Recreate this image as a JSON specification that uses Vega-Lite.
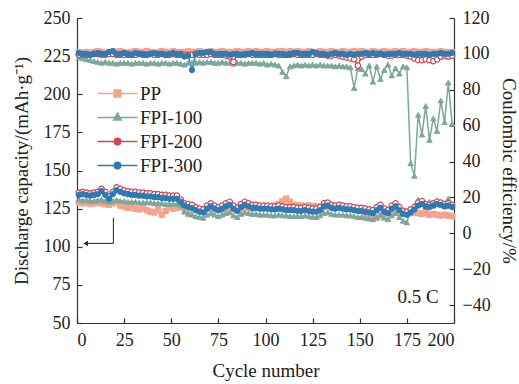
{
"$schema":"https://vega.github.io/schema/vega-lite/v6.json",
"width":377,"height":305,"autosize":{"type":"none"},
"padding":{"left":77,"top":18,"right":65,"bottom":61},
"background":"white",
"config":{"font":"Liberation Serif","view":{"stroke":null},
 "axis":{"grid":false,"domainColor":"#333","tickColor":"#333","labelColor":"#222","titleColor":"#222","labelFont":"Liberation Serif","titleFont":"Liberation Serif","labelFontSize":18,"titleFontSize":19,"titleFontWeight":"normal","tickSize":-5,"domainWidth":1.2,"tickWidth":1.2}},
"datasets":{
"cap":[
{"c":1,"PP":129,"FPI-100":131,"FPI-200":135.5,"FPI-300":134},
{"c":3,"PP":128.5,"FPI-100":130.5,"FPI-200":136,"FPI-300":134.5},
{"c":5,"PP":129,"FPI-100":130.5,"FPI-200":135.5,"FPI-300":134},
{"c":7,"PP":128,"FPI-100":130,"FPI-200":135,"FPI-300":133.5},
{"c":9,"PP":128.5,"FPI-100":130,"FPI-200":135.5,"FPI-300":134},
{"c":11,"PP":129,"FPI-100":130.5,"FPI-200":136,"FPI-300":134.5},
{"c":13,"PP":128.5,"FPI-100":131,"FPI-200":138,"FPI-300":136.5},
{"c":15,"PP":128,"FPI-100":130,"FPI-200":136,"FPI-300":134},
{"c":17,"PP":127.5,"FPI-100":129.5,"FPI-200":133,"FPI-300":131.5},
{"c":19,"PP":128.5,"FPI-100":130,"FPI-200":136,"FPI-300":134.5},
{"c":21,"PP":129.5,"FPI-100":130.5,"FPI-200":139,"FPI-300":137},
{"c":23,"PP":127,"FPI-100":130,"FPI-200":138,"FPI-300":136},
{"c":25,"PP":126.5,"FPI-100":130,"FPI-200":137,"FPI-300":135},
{"c":27,"PP":125.5,"FPI-100":129.5,"FPI-200":136.5,"FPI-300":134.5},
{"c":29,"PP":126,"FPI-100":129.5,"FPI-200":136,"FPI-300":134},
{"c":31,"PP":125,"FPI-100":129.5,"FPI-200":136,"FPI-300":134},
{"c":33,"PP":124.5,"FPI-100":129,"FPI-200":135.5,"FPI-300":133.5},
{"c":35,"PP":125.5,"FPI-100":129,"FPI-200":135.5,"FPI-300":133.5},
{"c":37,"PP":124,"FPI-100":129,"FPI-200":135,"FPI-300":133},
{"c":39,"PP":123,"FPI-100":129,"FPI-200":135,"FPI-300":133},
{"c":41,"PP":122.5,"FPI-100":128.5,"FPI-200":134.5,"FPI-300":132.5},
{"c":43,"PP":124.5,"FPI-100":128.5,"FPI-200":134.5,"FPI-300":132.5},
{"c":45,"PP":121,"FPI-100":128.5,"FPI-200":134,"FPI-300":132},
{"c":47,"PP":123.5,"FPI-100":128,"FPI-200":134,"FPI-300":132},
{"c":49,"PP":125.5,"FPI-100":128,"FPI-200":133.5,"FPI-300":131.5},
{"c":51,"PP":125,"FPI-100":128,"FPI-200":133.5,"FPI-300":131.5},
{"c":53,"PP":125.5,"FPI-100":128,"FPI-200":133.5,"FPI-300":131.5},
{"c":55,"PP":126,"FPI-100":127,"FPI-200":131,"FPI-300":129.5},
{"c":57,"PP":125,"FPI-100":123,"FPI-200":128.5,"FPI-300":127},
{"c":59,"PP":124.5,"FPI-100":121.5,"FPI-200":128,"FPI-300":126},
{"c":61,"PP":124,"FPI-100":121,"FPI-200":127.5,"FPI-300":125.5},
{"c":63,"PP":124.5,"FPI-100":120,"FPI-200":126,"FPI-300":124},
{"c":65,"PP":123.5,"FPI-100":119.5,"FPI-200":125,"FPI-300":123},
{"c":67,"PP":124,"FPI-100":119,"FPI-200":124.5,"FPI-300":122.5},
{"c":69,"PP":125,"FPI-100":121,"FPI-200":127,"FPI-300":125},
{"c":71,"PP":125,"FPI-100":122,"FPI-200":128.5,"FPI-300":126.5},
{"c":73,"PP":124.5,"FPI-100":121,"FPI-200":127,"FPI-300":125},
{"c":75,"PP":124,"FPI-100":120,"FPI-200":126,"FPI-300":124},
{"c":77,"PP":124.5,"FPI-100":121,"FPI-200":127,"FPI-300":125},
{"c":79,"PP":125,"FPI-100":122,"FPI-200":128.5,"FPI-300":126.5},
{"c":81,"PP":125.5,"FPI-100":122.5,"FPI-200":129.5,"FPI-300":127.5},
{"c":83,"PP":124.5,"FPI-100":120.5,"FPI-200":127,"FPI-300":125},
{"c":85,"PP":124,"FPI-100":119.5,"FPI-200":125.5,"FPI-300":123.5},
{"c":87,"PP":125,"FPI-100":121.5,"FPI-200":128,"FPI-300":126},
{"c":89,"PP":125.5,"FPI-100":122.5,"FPI-200":129.5,"FPI-300":127.5},
{"c":91,"PP":125.5,"FPI-100":122,"FPI-200":128.5,"FPI-300":126.5},
{"c":93,"PP":125,"FPI-100":121.5,"FPI-200":127.5,"FPI-300":125.5},
{"c":95,"PP":125.5,"FPI-100":121.5,"FPI-200":127.5,"FPI-300":125.5},
{"c":97,"PP":126,"FPI-100":121,"FPI-200":127,"FPI-300":125},
{"c":99,"PP":125.5,"FPI-100":121,"FPI-200":127,"FPI-300":125},
{"c":101,"PP":126,"FPI-100":121,"FPI-200":127,"FPI-300":125},
{"c":103,"PP":126.5,"FPI-100":120.5,"FPI-200":126.5,"FPI-300":124.5},
{"c":105,"PP":127,"FPI-100":120.5,"FPI-200":126.5,"FPI-300":124.5},
{"c":107,"PP":128,"FPI-100":121,"FPI-200":127,"FPI-300":125},
{"c":109,"PP":130,"FPI-100":120.5,"FPI-200":126.5,"FPI-300":124.5},
{"c":111,"PP":131.5,"FPI-100":120.5,"FPI-200":126,"FPI-300":124},
{"c":113,"PP":129.5,"FPI-100":120,"FPI-200":126,"FPI-300":124},
{"c":115,"PP":127.5,"FPI-100":120,"FPI-200":126,"FPI-300":124},
{"c":117,"PP":127,"FPI-100":120,"FPI-200":125.5,"FPI-300":123.5},
{"c":119,"PP":127,"FPI-100":120,"FPI-200":125.5,"FPI-300":123.5},
{"c":121,"PP":126.5,"FPI-100":120.5,"FPI-200":126,"FPI-300":124},
{"c":123,"PP":127,"FPI-100":120,"FPI-200":125.5,"FPI-300":123.5},
{"c":125,"PP":126.5,"FPI-100":119.5,"FPI-200":125,"FPI-300":123},
{"c":127,"PP":126.5,"FPI-100":119.5,"FPI-200":125,"FPI-300":123},
{"c":129,"PP":126,"FPI-100":120.5,"FPI-200":126,"FPI-300":124},
{"c":131,"PP":126,"FPI-100":122,"FPI-200":128.5,"FPI-300":126.5},
{"c":133,"PP":126.5,"FPI-100":122.5,"FPI-200":129,"FPI-300":127},
{"c":135,"PP":126,"FPI-100":121.5,"FPI-200":127.5,"FPI-300":125.5},
{"c":137,"PP":125.5,"FPI-100":121,"FPI-200":127,"FPI-300":125},
{"c":139,"PP":126,"FPI-100":121,"FPI-200":127.5,"FPI-300":125.5},
{"c":141,"PP":125.5,"FPI-100":121,"FPI-200":127,"FPI-300":125},
{"c":143,"PP":125,"FPI-100":120.5,"FPI-200":126.5,"FPI-300":124.5},
{"c":145,"PP":125,"FPI-100":120.5,"FPI-200":126.5,"FPI-300":124.5},
{"c":147,"PP":124.5,"FPI-100":120,"FPI-200":126,"FPI-300":124},
{"c":149,"PP":124,"FPI-100":119.5,"FPI-200":125.5,"FPI-300":123.5},
{"c":151,"PP":123.5,"FPI-100":119.5,"FPI-200":125.5,"FPI-300":123.5},
{"c":153,"PP":122,"FPI-100":119,"FPI-200":125,"FPI-300":123},
{"c":155,"PP":120,"FPI-100":118.5,"FPI-200":124.5,"FPI-300":122.5},
{"c":157,"PP":118.5,"FPI-100":118,"FPI-200":124,"FPI-300":122},
{"c":159,"PP":119,"FPI-100":119.5,"FPI-200":126,"FPI-300":124},
{"c":161,"PP":120.5,"FPI-100":121,"FPI-200":127.5,"FPI-300":125.5},
{"c":163,"PP":121.5,"FPI-100":119,"FPI-200":125,"FPI-300":123},
{"c":165,"PP":122,"FPI-100":118,"FPI-200":124,"FPI-300":122},
{"c":167,"PP":122.5,"FPI-100":120.5,"FPI-200":127,"FPI-300":125},
{"c":169,"PP":123,"FPI-100":122,"FPI-200":128.5,"FPI-300":126.5},
{"c":171,"PP":122.5,"FPI-100":119.5,"FPI-200":126,"FPI-300":124},
{"c":173,"PP":122,"FPI-100":117,"FPI-200":123.5,"FPI-300":121.5},
{"c":175,"PP":121.5,"FPI-100":116,"FPI-200":123,"FPI-300":121},
{"c":177,"PP":122,"FPI-100":124,"FPI-200":124.5,"FPI-300":122.5},
{"c":179,"PP":122.5,"FPI-100":127,"FPI-200":126,"FPI-300":124.5},
{"c":181,"PP":122,"FPI-100":131,"FPI-200":129,"FPI-300":127},
{"c":183,"PP":121.5,"FPI-100":128,"FPI-200":130,"FPI-300":128},
{"c":185,"PP":122,"FPI-100":126,"FPI-200":128,"FPI-300":126.5},
{"c":187,"PP":121,"FPI-100":129.5,"FPI-200":127.5,"FPI-300":126},
{"c":189,"PP":121.5,"FPI-100":127,"FPI-200":128.5,"FPI-300":127},
{"c":191,"PP":121,"FPI-100":130.5,"FPI-200":129.5,"FPI-300":128},
{"c":193,"PP":120.5,"FPI-100":127.5,"FPI-200":129,"FPI-300":127.5},
{"c":195,"PP":121,"FPI-100":126.5,"FPI-200":128,"FPI-300":126.5},
{"c":197,"PP":120.5,"FPI-100":131.5,"FPI-200":128.5,"FPI-300":127},
{"c":199,"PP":120,"FPI-100":127,"FPI-200":127.5,"FPI-300":126}
],
"ce":[
{"c":1,"PP":101,"FPI-100":98,"FPI-200":99.5,"FPI-300":100.5},
{"c":3,"PP":100.5,"FPI-100":97.5,"FPI-200":99.5,"FPI-300":100},
{"c":5,"PP":101,"FPI-100":97,"FPI-200":99.5,"FPI-300":100},
{"c":7,"PP":100.5,"FPI-100":96.5,"FPI-200":99.5,"FPI-300":99.5},
{"c":9,"PP":101,"FPI-100":96,"FPI-200":100,"FPI-300":100},
{"c":11,"PP":101.5,"FPI-100":95.5,"FPI-200":100,"FPI-300":100.5},
{"c":13,"PP":101,"FPI-100":95,"FPI-200":99.5,"FPI-300":100},
{"c":15,"PP":100.5,"FPI-100":95.5,"FPI-200":99.5,"FPI-300":100},
{"c":17,"PP":101,"FPI-100":95,"FPI-200":100,"FPI-300":101},
{"c":19,"PP":101.5,"FPI-100":95,"FPI-200":100,"FPI-300":101.5},
{"c":21,"PP":101,"FPI-100":94.5,"FPI-200":99.5,"FPI-300":100},
{"c":23,"PP":101.5,"FPI-100":95,"FPI-200":99.5,"FPI-300":100},
{"c":25,"PP":101,"FPI-100":95,"FPI-200":99.5,"FPI-300":100.5},
{"c":27,"PP":100.5,"FPI-100":95,"FPI-200":100,"FPI-300":99.5},
{"c":29,"PP":101,"FPI-100":94.5,"FPI-200":99.5,"FPI-300":99.5},
{"c":31,"PP":101.5,"FPI-100":95,"FPI-200":99.5,"FPI-300":100.5},
{"c":33,"PP":101,"FPI-100":95,"FPI-200":100,"FPI-300":100},
{"c":35,"PP":101,"FPI-100":95,"FPI-200":99.5,"FPI-300":100},
{"c":37,"PP":101.5,"FPI-100":94.5,"FPI-200":99.5,"FPI-300":99.5},
{"c":39,"PP":101,"FPI-100":95,"FPI-200":100,"FPI-300":100},
{"c":41,"PP":100.5,"FPI-100":95,"FPI-200":99.5,"FPI-300":100.5},
{"c":43,"PP":101,"FPI-100":94.5,"FPI-200":99.5,"FPI-300":100},
{"c":45,"PP":101.5,"FPI-100":95,"FPI-200":100,"FPI-300":100},
{"c":47,"PP":101,"FPI-100":95,"FPI-200":99.5,"FPI-300":99.5},
{"c":49,"PP":101,"FPI-100":94.5,"FPI-200":99.5,"FPI-300":100},
{"c":51,"PP":101.5,"FPI-100":95,"FPI-200":100,"FPI-300":100.5},
{"c":53,"PP":101,"FPI-100":95,"FPI-200":99.5,"FPI-300":100},
{"c":55,"PP":101,"FPI-100":94.5,"FPI-200":99.5,"FPI-300":100},
{"c":57,"PP":101,"FPI-100":94,"FPI-200":99.5,"FPI-300":98.5},
{"c":59,"PP":101.5,"FPI-100":95,"FPI-200":99.5,"FPI-300":99},
{"c":61,"PP":101,"FPI-100":95,"FPI-200":99.5,"FPI-300":91},
{"c":63,"PP":101,"FPI-100":95,"FPI-200":100,"FPI-300":100},
{"c":65,"PP":101.5,"FPI-100":95.5,"FPI-200":99.5,"FPI-300":100.5},
{"c":67,"PP":101,"FPI-100":95,"FPI-200":99.5,"FPI-300":100.5},
{"c":69,"PP":101,"FPI-100":95.5,"FPI-200":99.5,"FPI-300":101},
{"c":71,"PP":101.5,"FPI-100":95.5,"FPI-200":100,"FPI-300":101},
{"c":73,"PP":101,"FPI-100":95,"FPI-200":99.5,"FPI-300":100},
{"c":75,"PP":101,"FPI-100":95,"FPI-200":99.5,"FPI-300":100},
{"c":77,"PP":101.5,"FPI-100":95.5,"FPI-200":99.5,"FPI-300":100},
{"c":79,"PP":101,"FPI-100":95,"FPI-200":99,"FPI-300":100},
{"c":81,"PP":101,"FPI-100":95,"FPI-200":98.5,"FPI-300":99.5},
{"c":83,"PP":101,"FPI-100":94.5,"FPI-200":95.5,"FPI-300":100},
{"c":85,"PP":101.5,"FPI-100":95,"FPI-200":99.5,"FPI-300":100},
{"c":87,"PP":101,"FPI-100":95,"FPI-200":99.5,"FPI-300":99.5},
{"c":89,"PP":101,"FPI-100":94.5,"FPI-200":99.5,"FPI-300":100},
{"c":91,"PP":101.5,"FPI-100":95,"FPI-200":100,"FPI-300":100},
{"c":93,"PP":101,"FPI-100":95,"FPI-200":99.5,"FPI-300":100.5},
{"c":95,"PP":101.5,"FPI-100":95,"FPI-200":99.5,"FPI-300":100},
{"c":97,"PP":101,"FPI-100":94.5,"FPI-200":99.5,"FPI-300":100},
{"c":99,"PP":101,"FPI-100":95,"FPI-200":99.5,"FPI-300":100},
{"c":101,"PP":101.5,"FPI-100":94,"FPI-200":99.5,"FPI-300":100},
{"c":103,"PP":101,"FPI-100":94.5,"FPI-200":99.5,"FPI-300":99.5},
{"c":105,"PP":101,"FPI-100":94,"FPI-200":100,"FPI-300":100},
{"c":107,"PP":101.5,"FPI-100":93.5,"FPI-200":99.5,"FPI-300":100},
{"c":109,"PP":101.5,"FPI-100":90,"FPI-200":99.5,"FPI-300":100},
{"c":111,"PP":101,"FPI-100":87.5,"FPI-200":99.5,"FPI-300":99.5},
{"c":113,"PP":101.5,"FPI-100":93,"FPI-200":99.5,"FPI-300":100},
{"c":115,"PP":101,"FPI-100":93.5,"FPI-200":100,"FPI-300":100.5},
{"c":117,"PP":101.5,"FPI-100":94,"FPI-200":99.5,"FPI-300":100.5},
{"c":119,"PP":101,"FPI-100":93.5,"FPI-200":99.5,"FPI-300":100},
{"c":121,"PP":101,"FPI-100":94,"FPI-200":99.5,"FPI-300":100},
{"c":123,"PP":101.5,"FPI-100":93.5,"FPI-200":99.5,"FPI-300":100},
{"c":125,"PP":101,"FPI-100":94,"FPI-200":99.5,"FPI-300":101},
{"c":127,"PP":101,"FPI-100":93.5,"FPI-200":100,"FPI-300":100.5},
{"c":129,"PP":101.5,"FPI-100":94,"FPI-200":99.5,"FPI-300":100},
{"c":131,"PP":101,"FPI-100":93.5,"FPI-200":99.5,"FPI-300":100},
{"c":133,"PP":101,"FPI-100":93.5,"FPI-200":99,"FPI-300":99.5},
{"c":135,"PP":101.5,"FPI-100":93.5,"FPI-200":99,"FPI-300":100},
{"c":137,"PP":101,"FPI-100":93,"FPI-200":99.5,"FPI-300":100.5},
{"c":139,"PP":101,"FPI-100":93.5,"FPI-200":99,"FPI-300":100},
{"c":141,"PP":101.5,"FPI-100":93,"FPI-200":98.5,"FPI-300":100},
{"c":143,"PP":101,"FPI-100":93,"FPI-200":98,"FPI-300":99.5},
{"c":145,"PP":101,"FPI-100":92.5,"FPI-200":97.5,"FPI-300":100},
{"c":147,"PP":101.5,"FPI-100":81,"FPI-200":97,"FPI-300":99.5},
{"c":149,"PP":101,"FPI-100":92,"FPI-200":93.5,"FPI-300":100},
{"c":151,"PP":101.5,"FPI-100":91.5,"FPI-200":98.5,"FPI-300":100},
{"c":153,"PP":101,"FPI-100":89,"FPI-200":99.5,"FPI-300":100.5},
{"c":155,"PP":101,"FPI-100":93.5,"FPI-200":99.5,"FPI-300":100},
{"c":157,"PP":101.5,"FPI-100":84.5,"FPI-200":99.5,"FPI-300":100.5},
{"c":159,"PP":101,"FPI-100":93,"FPI-200":99.5,"FPI-300":100},
{"c":161,"PP":101,"FPI-100":86,"FPI-200":100,"FPI-300":100},
{"c":163,"PP":101.5,"FPI-100":91,"FPI-200":99.5,"FPI-300":99.5},
{"c":165,"PP":101,"FPI-100":94,"FPI-200":99,"FPI-300":100},
{"c":167,"PP":101,"FPI-100":88,"FPI-200":99,"FPI-300":100},
{"c":169,"PP":101.5,"FPI-100":92,"FPI-200":99.5,"FPI-300":100},
{"c":171,"PP":101,"FPI-100":89,"FPI-200":99.5,"FPI-300":100.5},
{"c":173,"PP":101.5,"FPI-100":93,"FPI-200":99.5,"FPI-300":100},
{"c":175,"PP":101,"FPI-100":92.5,"FPI-200":99,"FPI-300":100},
{"c":177,"PP":101,"FPI-100":39,"FPI-200":98.5,"FPI-300":100},
{"c":179,"PP":101.5,"FPI-100":32,"FPI-200":97.5,"FPI-300":99.5},
{"c":181,"PP":101,"FPI-100":66,"FPI-200":96.5,"FPI-300":100},
{"c":183,"PP":101,"FPI-100":55,"FPI-200":96.5,"FPI-300":100},
{"c":185,"PP":101.5,"FPI-100":71,"FPI-200":97,"FPI-300":100},
{"c":187,"PP":101,"FPI-100":52,"FPI-200":96.5,"FPI-300":99.5},
{"c":189,"PP":101,"FPI-100":64,"FPI-200":96,"FPI-300":100},
{"c":191,"PP":101,"FPI-100":57,"FPI-200":97,"FPI-300":100},
{"c":193,"PP":101.5,"FPI-100":74,"FPI-200":98.5,"FPI-300":100.5},
{"c":195,"PP":101,"FPI-100":62,"FPI-200":99,"FPI-300":100},
{"c":197,"PP":101,"FPI-100":84,"FPI-200":98.5,"FPI-300":100},
{"c":199,"PP":101,"FPI-100":61,"FPI-200":99,"FPI-300":100.5}
],
"arrow":[{"c":19.3,"value":119,"o":1},{"c":19.3,"value":102.2,"o":2},{"c":5,"value":102.2,"o":3}],
"arrowhead":[{"c":4.6,"value":102.2}],
"note":[{"c":181,"value":67,"t":"0.5 C"}]
},
"encoding":{"x":{"field":"c","type":"quantitative","scale":{"domain":[0,200],"nice":false},
  "axis":{"title":"Cycle number","values":[0,25,50,75,100,125,150,175,200],"labelPadding":13,"titlePadding":12}}},
"layer":[
 {"encoding":{"y":{"field":"value","type":"quantitative","scale":{"domain":[50,250],"nice":false},
   "axis":{"orient":"left","title":"Discharge capacity/(mAh·g⁻¹)","values":[50,75,100,125,150,175,200,225,250],"labelPadding":12,"titlePadding":12}}},
  "layer":[
   {"data":{"name":"cap"},"transform":[{"fold":["PP","FPI-100","FPI-200","FPI-300"],"as":["series","value"]}],
    "mark":{"type":"line","strokeWidth":1.5},
    "encoding":{"stroke":{"field":"series","type":"nominal",
      "scale":{"domain":["PP","FPI-100","FPI-200","FPI-300"],"range":["#F4A38D","#7DA89A","#D4474F","#2E7AB6"]},
      "legend":{"orient":"none","legendX":31,"legendY":66,"title":null,"padding":0,
        "labelFont":"Liberation Serif","labelFontSize":19,"labelColor":"#222","symbolSize":64,"labelOffset":13,"rowPadding":4,
        "encode":{"symbols":{"update":{
          "shape":{"signal":"datum.value==='PP' ? 'M-5,0H5M-0.85,-0.85H0.85V0.85H-0.85Z' : datum.value==='FPI-100' ? 'M-5,0H5M0,-1.1L0.95,0.6H-0.95Z' : 'M-5,0H5M0.8,0A0.8,0.8,0,1,1,-0.8,0A0.8,0.8,0,1,1,0.8,0'"},
          "fill":{"signal":"scale('stroke', datum.value)"},
          "stroke":{"signal":"scale('stroke', datum.value)"},
          "strokeWidth":{"value":1.5},"opacity":{"value":1}}}}}}}},
   {"data":{"name":"cap"},"transform":[{"fold":["PP"],"as":["series","value"]}],
    "mark":{"type":"point","shape":"square","filled":true,"fill":"#F4A38D","stroke":"#F4A38D","opacity":1,"size":30,"strokeWidth":1}},
   {"data":{"name":"cap"},"transform":[{"fold":["FPI-100"],"as":["series","value"]}],
    "mark":{"type":"point","shape":"triangle-up","filled":true,"fill":"#7DA89A","stroke":"#7DA89A","opacity":1,"size":30,"strokeWidth":1}},
   {"data":{"name":"cap"},"transform":[{"fold":["FPI-200"],"as":["series","value"]}],
    "mark":{"type":"point","shape":"circle","filled":true,"fill":"#FFFFFF","stroke":"#D4474F","opacity":1,"size":30,"strokeWidth":1.2}},
   {"data":{"name":"cap"},"transform":[{"fold":["FPI-300"],"as":["series","value"]}],
    "mark":{"type":"point","shape":"circle","filled":true,"fill":"#2E7AB6","stroke":"#2E7AB6","opacity":1,"size":30,"strokeWidth":1}},
   {"data":{"name":"arrow"},"mark":{"type":"line","stroke":"#222","strokeWidth":1},"encoding":{"order":{"field":"o","type":"quantitative"}}},
   {"data":{"name":"arrowhead"},"mark":{"type":"point","shape":"triangle-left","filled":true,"color":"#222","opacity":1,"size":28}},
   {"data":{"name":"note"},"mark":{"type":"text","fontSize":19,"font":"Liberation Serif","color":"#222","align":"center","baseline":"middle"},"encoding":{"text":{"field":"t"}}}
  ]},
 {"encoding":{"y":{"field":"value","type":"quantitative","scale":{"domain":[-50,120],"nice":false},
   "axis":{"orient":"right","title":"Coulombic efficiency/%","values":[-40,-20,0,20,40,60,80,100,120],"labelPadding":13,"titlePadding":8}}},
  "layer":[
   {"data":{"name":"ce"},"transform":[{"fold":["PP","FPI-100","FPI-200","FPI-300"],"as":["series","value"]}],
    "mark":{"type":"line","strokeWidth":1.5},
    "encoding":{"stroke":{"field":"series","type":"nominal","legend":null}}},
   {"data":{"name":"ce"},"transform":[{"fold":["PP"],"as":["series","value"]}],
    "mark":{"type":"point","shape":"square","filled":true,"fill":"#F4A38D","stroke":"#F4A38D","opacity":1,"size":30,"strokeWidth":1}},
   {"data":{"name":"ce"},"transform":[{"fold":["FPI-100"],"as":["series","value"]}],
    "mark":{"type":"point","shape":"triangle-up","filled":true,"fill":"#7DA89A","stroke":"#7DA89A","opacity":1,"size":30,"strokeWidth":1}},
   {"data":{"name":"ce"},"transform":[{"fold":["FPI-200"],"as":["series","value"]}],
    "mark":{"type":"point","shape":"circle","filled":true,"fill":"#FFFFFF","stroke":"#D4474F","opacity":1,"size":30,"strokeWidth":1.2}},
   {"data":{"name":"ce"},"transform":[{"fold":["FPI-300"],"as":["series","value"]}],
    "mark":{"type":"point","shape":"circle","filled":true,"fill":"#2E7AB6","stroke":"#2E7AB6","opacity":1,"size":30,"strokeWidth":1}}
  ]}
],
"resolve":{"scale":{"y":"independent"}}
}
